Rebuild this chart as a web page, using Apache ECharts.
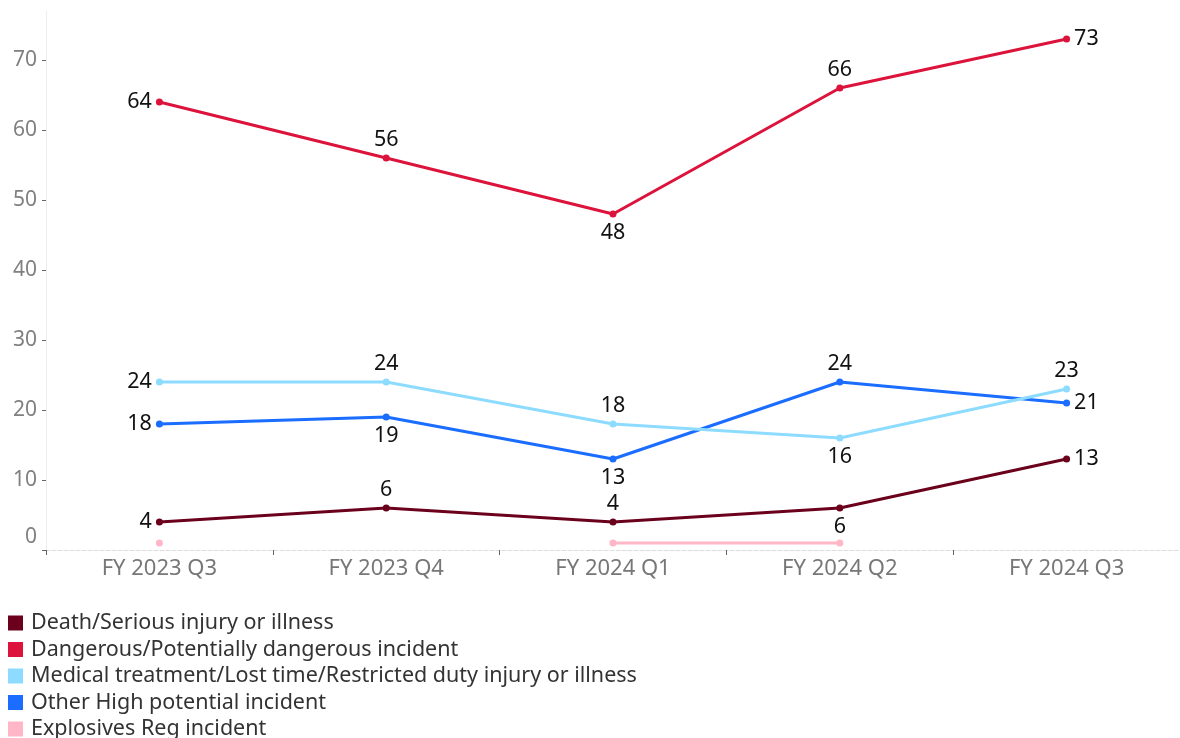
<!DOCTYPE html>
<html><head><meta charset="utf-8">
<script src="https://cdn.jsdelivr.net/npm/echarts@6/dist/echarts.min.js"></script>
<style>html,body{margin:0;padding:0;background:#fff}#c{width:1180px;height:738px}</style>
</head><body><div id="c"></div>
<script>
const categories = ['FY 2023 Q3','FY 2023 Q4','FY 2024 Q1','FY 2024 Q2','FY 2024 Q3'];
const seriesNames = ['Death/Serious injury or illness','Dangerous/Potentially dangerous incident','Medical treatment/Lost time/Restricted duty injury or illness','Other High potential incident','Explosives Reg incident'];
const death = [4, 6, 4, 6, 13];
const dangerous = [64, 56, 48, 66, 73];
const medical = [24, 24, 18, 16, 23];
const otherHigh = [18, 19, 13, 24, 21];
const explosives = [1, null, 1, 1, null];
const yTicks = [0,10,20,30,40,50,60,70];

const colors = ['#6b001c','#dc143c','#8ddcff','#1a6dff','#ffb6c6'];
const labelPos = [
  ['left','top','top','bottom','right'],
  ['left','top','bottom','top','right'],
  ['left','top','top','bottom','top'],
  ['left','bottom','bottom','top','right'],
  null
];
const FONT = 'Noto Sans';
function mk(name, data, idx){
  return {
    name, type:'line',
    color: colors[idx],
    lineStyle:{width:3, color: colors[idx]},
    symbol:'circle', symbolSize:7,
    itemStyle:{color: colors[idx]},
    connectNulls:false,
    z: 10-idx,
    label: labelPos[idx] ? {
      show:true, color:'#111', fontSize:21.5, fontFamily:FONT, distance:4,
      position:'top'
    } : {show:false},
    data: data.map((v,i)=> labelPos[idx] ? {value:v, label:{position:labelPos[idx][i]}} : v),
    emphasis:{disabled:true}, animation:false
  };
}
const chart = echarts.init(document.getElementById('c'));
chart.setOption({
  animation:false,
  textStyle:{fontFamily:FONT},
  grid:{left:46, right:-5, top:11, bottom:188, containLabel:false},
  legend:{
    orient:'vertical', left:3, top:607, bottom:0, height:140, itemGap:4.5, itemWidth:15, itemHeight:15,
    icon:'rect', textStyle:{fontSize:21.5, color:'#333', fontFamily:FONT, padding:[0,0,0,3]},
    data: seriesNames, selectedMode:false
  },
  xAxis:{
    type:'category', data:categories, boundaryGap:true,
    axisLine:{show:true, lineStyle:{color:'#ddd', type:'dashed', width:1}},
    axisTick:{show:true, length:5, lineStyle:{color:'#666'}},
    axisLabel:{color:'#777', fontSize:22, fontFamily:FONT, margin:8}
  },
  yAxis:{
    type:'value', min:0, max:77, interval:10,
    axisLine:{show:true, lineStyle:{color:'#eeeeee'}},
    axisTick:{show:true, length:4, lineStyle:{color:'#666'}, customValues:yTicks},
    splitLine:{show:false},
    axisLabel:{
      color:'#808080', fontSize:21, fontFamily:FONT, margin:9, customValues:yTicks,
      formatter:(v)=> v===0 ? '{z|0}' : String(v),
      rich:{z:{color:'#808080', fontSize:21, fontFamily:FONT, padding:[0,0,26,0]}}
    }
  },
  series:[
    mk(seriesNames[0], death, 0),
    mk(seriesNames[1], dangerous, 1),
    mk(seriesNames[2], medical, 2),
    mk(seriesNames[3], otherHigh, 3),
    mk(seriesNames[4], explosives, 4)
  ]
});
</script></body></html>
